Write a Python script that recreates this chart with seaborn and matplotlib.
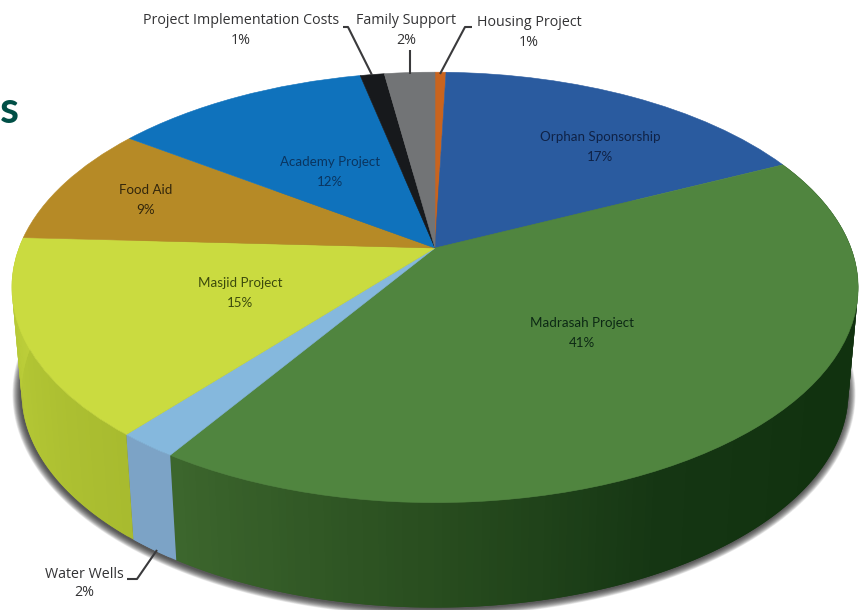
import numpy as np
import matplotlib
matplotlib.use("Agg")
import matplotlib.pyplot as plt
from matplotlib.transforms import Transform
import seaborn as sns

# slices clockwise from the top of the pie, sizes as measured on the picture
projects = ["Housing Project", "Orphan Sponsorship", "Madrasah Project", "Water Wells", "Masjid Project",
            "Food Aid", "Academy Project", "Project Implementation Costs", "Family Support"]
shares = [0.5, 17.4, 41.15, 1.95, 14.8, 9.1, 11.7, 1.1, 2.3]
top_colors = ["#c9641e", "#2a5b9f", "#50853f", "#85b8dd", "#cadb40", "#b68a26", "#0f72bc", "#17191c", "#727476"]

# side wall colours, only the front slices show a wall
side_colors = {
    "Madrasah Project": ["#11320f", "#11320f", "#11320f", "#153613", "#2a4f20", "#3c662d"],
    "Water Wells": ["#7ca3c6", "#7ca3c6"],
    "Masjid Project": ["#a8bb2f", "#b2c534", "#bdcf3a"],
}

# shape of the tilted disc, in pixels
APEX_X, APEX_Y = 435, 248
WIDE, TALL, PERSP = 416, 208, 0.183
DEPTH, BOTTOM_SHRINK = 105, 0.977


def project(x, y):
    w = 1 + PERSP * y
    return APEX_X + WIDE * x / w, APEX_Y - TALL * y / w


class TiltedDisc(Transform):
    input_dims = 2
    output_dims = 2

    def transform_non_affine(self, xy):
        xy = np.asarray(xy)
        px, py = project(xy[:, 0], xy[:, 1])
        return np.column_stack([px, py])


def rim(frac):
    a = 2 * np.pi * np.asarray(frac)
    return project(np.sin(a), np.cos(a))


def bottom_rim(frac):
    px, py = rim(frac)
    return APEX_X + (px - APEX_X) * BOTTOM_SHRINK, py + DEPTH


sns.set_style("white")
fig = plt.figure(figsize=(8.59, 6.10), dpi=100)
ax = fig.add_axes([0, 0, 1, 1])

wedges, _ = ax.pie(shares, colors=top_colors, startangle=90, counterclock=False)
ax.set_aspect("auto")
ax.set_xlim(0, 859)
ax.set_ylim(610, 0)
tilt = TiltedDisc() + ax.transData
for w in wedges:
    w.set_transform(tilt)
    w.set_clip_on(False)
    w.set_zorder(5)
    w.set_edgecolor(w.get_facecolor())
    w.set_linewidth(0.4)

# soft shadow under the disc
all_round = np.linspace(0, 1, 240)
bx, by = bottom_rim(all_round)
cy = by.mean()
for grow in np.arange(9, 0, -0.5):
    sx = APEX_X + (bx - APEX_X) * (1 + grow * 0.0022) - 1
    sy = cy + (by - cy) * (1 + grow * 0.0036) + 1
    ax.fill(sx, sy, color="#222222", alpha=0.07, lw=0, zorder=1)

# side wall as thin strips so that the shade can change along it
# each strip runs on under the next one, that keeps seams from showing
edges = np.cumsum([0] + shares) / sum(shares)
for name, start, end in zip(projects, edges[:-1], edges[1:]):
    if name not in side_colors:
        continue
    n = max(int((end - start) * 400), 2)
    shades = sns.blend_palette(side_colors[name], n)
    steps = np.linspace(start, end, n + 1)
    for i in range(n):
        seg = np.linspace(steps[i], steps[min(i + 2, n)], 4)
        tx, ty = rim(seg)
        ux, uy = bottom_rim(seg)
        ax.fill(np.r_[tx, ux[::-1]], np.r_[ty, uy[::-1]], color=shades[i], lw=0, zorder=2)

# labels inside the slices
inner = [("Orphan Sponsorship", "17%", 600, 137, "#0f2246"),
         ("Madrasah Project", "41%", 582, 323, "#0c2814"),
         ("Masjid Project", "15%", 240, 283, "#3c4a0c"),
         ("Food Aid", "9%", 146, 190, "#32260c"),
         ("Academy Project", "12%", 330, 162, "#0a3560")]
for name, pct, x, y, col in inner:
    ax.text(x, y, name, ha="center", va="center", fontsize=9.6, family="Lato", color=col, zorder=6)
    ax.text(x, y + 20, pct, ha="center", va="center", fontsize=9.6, family="Lato", color=col, zorder=6)

# labels outside with leader lines
outer = [("Project Implementation Costs", "1%", 241, 21, [343, 348, 372], [27, 27, 75]),
         ("Family Support", "2%", 406, 21, [410, 410], [50, 74]),
         ("Housing Project", "1%", 529, 23, [472, 465, 440], [27, 27, 74]),
         ("Water Wells", "2%", 84, 574, [127, 137, 157], [579, 579, 550])]
for name, pct, x, y, lx, ly in outer:
    ax.text(x, y, name, ha="center", va="center", fontsize=10.3, family="Open Sans", color="#333335", zorder=7)
    ax.text(x, y + 19, pct, ha="center", va="center", fontsize=10.3, family="Open Sans", color="#333335", zorder=7)
    ax.plot(lx, ly, color="#3a3a3c", lw=1.5, zorder=7, solid_capstyle="butt")

# end of the cropped page heading
ax.text(19, 110, "s", ha="right", va="center", fontsize=31, fontweight="bold", family="Lato", color="#004f46")

fig.savefig("out.png", dpi=100)
